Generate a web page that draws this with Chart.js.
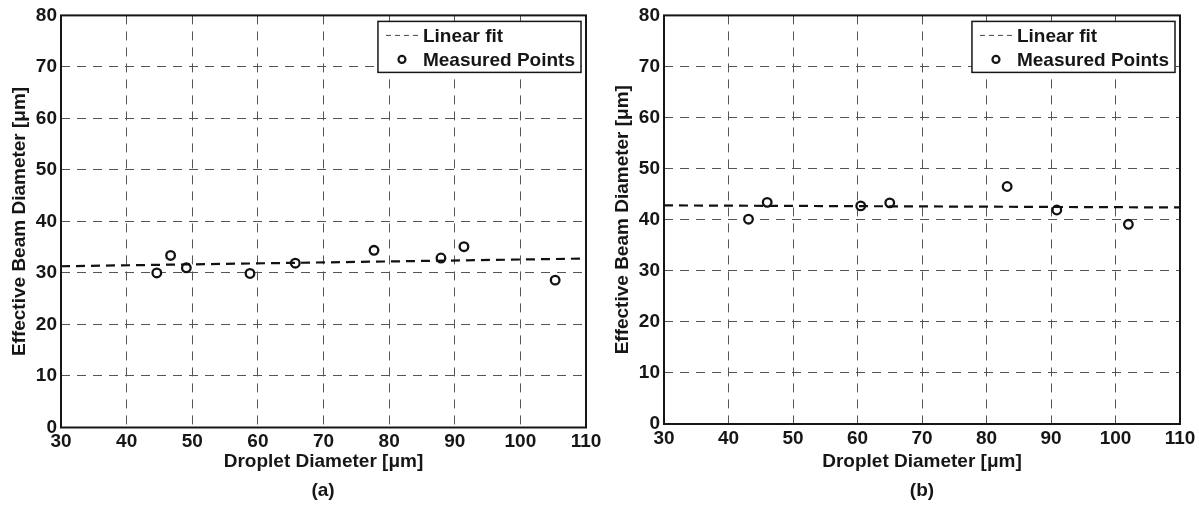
<!DOCTYPE html>
<html>
<head>
<meta charset="utf-8">
<script src="https://cdn.jsdelivr.net/npm/chart.js@4.4.0/dist/chart.umd.min.js"></script>
<style>
  body { margin: 0; background: #fff; }
  #wrap { position: relative; width: 1199px; height: 519px; overflow: hidden; }
  canvas { position: absolute; top: 0; }
  .cap { position: absolute; top: 479px; font: bold 19px "Liberation Sans", Arial, sans-serif; color: #161616; transform: translateX(-50%); }
</style>
</head>
<body>
<div id="wrap">
  <canvas id="chartA" width="620" height="519" style="left:0"></canvas>
  <canvas id="chartB" width="599" height="519" style="left:600px"></canvas>
  <div class="cap" style="left:323px">(a)</div>
  <div class="cap" style="left:922px">(b)</div>
</div>
<script>
// axis ranges (same for both panels)
const xMin = 30, xMax = 110, xStep = 10;
const yMin = 0, yMax = 80, yStep = 10;

// panel (a)
const dropletA = [44.6, 46.7, 49.1, 58.8, 65.7, 77.7, 87.9, 91.4, 105.3];
const beamA    = [30.0, 33.4, 31.0, 29.9, 31.9, 34.4, 32.9, 35.1, 28.6];
const fitXA = [30, 110];
const fitYA = [31.3, 32.8];

// panel (b)
const dropletB = [43.1, 46.0, 60.5, 65.0, 83.2, 90.9, 102.0];
const beamB    = [40.1, 43.4, 42.7, 43.3, 46.5, 41.9, 39.1];
const fitXB = [30, 110];
const fitYB = [42.8, 42.4];

const ink = '#161616';
const fontFamily = '"Liberation Sans", Arial, sans-serif';
Chart.defaults.font.family = fontFamily;
Chart.defaults.font.weight = 'bold';
Chart.defaults.font.size = 19;
Chart.defaults.color = ink;

// black box around the plot area
const framePlugin = {
  id: 'frame',
  afterDraw(chart) {
    const a = chart.chartArea, ctx = chart.ctx;
    ctx.save();
    ctx.strokeStyle = ink;
    ctx.lineWidth = 2;
    ctx.strokeRect(a.left, a.top, a.right - a.left, a.bottom - a.top);
    ctx.restore();
  }
};

// matlab style legend in the top right corner
const boxLegend = {
  id: 'boxLegend',
  afterDraw(chart) {
    const a = chart.chartArea, ctx = chart.ctx;
    const ds = chart.data.datasets;
    ctx.save();
    ctx.font = 'bold 19px ' + fontFamily;
    let tw = 0;
    ds.forEach(d => { tw = Math.max(tw, ctx.measureText(d.label).width); });
    const w = 45 + tw + 6, h = 51;
    const x0 = a.right - 5 - w, y0 = a.top + 6;
    ctx.fillStyle = '#fff';
    ctx.fillRect(x0, y0, w, h);
    ctx.strokeStyle = ink;
    ctx.lineWidth = 1.5;
    ctx.strokeRect(x0, y0, w, h);
    ds.forEach((d, i) => {
      const cy = y0 + 14 + i * 24;
      if (d.showLine) {
        ctx.setLineDash([5, 4]);
        ctx.lineWidth = 1;
        ctx.strokeStyle = '#444';
        ctx.beginPath();
        ctx.moveTo(x0 + 8, cy);
        ctx.lineTo(x0 + 44, cy);
        ctx.stroke();
        ctx.setLineDash([]);
        ctx.strokeStyle = ink;
      } else {
        ctx.lineWidth = 2.2;
        ctx.beginPath();
        ctx.arc(x0 + 24, cy, 3.5, 0, Math.PI * 2);
        ctx.stroke();
      }
      ctx.fillStyle = ink;
      ctx.textBaseline = 'middle';
      ctx.fillText(d.label, x0 + 45, cy + 1);
    });
    ctx.restore();
  }
};

function makeChart(id, droplet, beam, fitX, fitY, lay) {
  const points = droplet.map((v, i) => ({ x: v, y: beam[i] }));
  const fit = fitX.map((v, i) => ({ x: v, y: fitY[i] }));
  return new Chart(document.getElementById(id), {
    type: 'scatter',
    data: {
      datasets: [{
        label: 'Linear fit',
        data: fit,
        showLine: true,
        borderColor: '#111',
        borderWidth: 2.2,
        borderDash: [9, 6],
        pointRadius: 0
      }, {
        label: 'Measured Points',
        data: points,
        pointRadius: 4.3,
        pointBorderWidth: 2.3,
        borderColor: '#111',
        backgroundColor: '#fff'
      }]
    },
    options: {
      responsive: false,
      animation: false,
      layout: { padding: { top: lay.top, right: lay.right, left: 0, bottom: 0 } },
      plugins: { legend: { display: false }, tooltip: { enabled: false } },
      scales: {
        x: {
          type: 'linear', min: xMin, max: xMax,
          ticks: { stepSize: xStep, padding: 3, maxRotation: 0 },
          grid: { color: '#555', lineWidth: 1, drawTicks: false },
          border: { display: false, dash: [9, 7] },
          title: { display: true, text: 'Droplet Diameter [\u03bcm]', padding: { top: 0, bottom: 46 } },
          afterFit: s => { s.height = lay.xh; }
        },
        y: {
          type: 'linear', min: yMin, max: yMax,
          ticks: { stepSize: yStep, padding: 4 },
          grid: { color: '#555', lineWidth: 1, drawTicks: false },
          border: { display: false, dash: [9, 7] },
          title: { display: true, text: 'Effective Beam Diameter [\u03bcm]', padding: { top: lay.tp, bottom: 0 } },
          afterFit: s => { s.width = lay.yw; }
        }
      }
    },
    plugins: [framePlugin, boxLegend]
  });
}

makeChart('chartA', dropletA, beamA, fitXA, fitYA, { top: 15, right: 34, xh: 91.5, yw: 61, tp: 8 });
makeChart('chartB', dropletB, beamB, fitXB, fitYB, { top: 13, right: 19, xh: 95, yw: 64, tp: 11 });
</script>
</body>
</html>
